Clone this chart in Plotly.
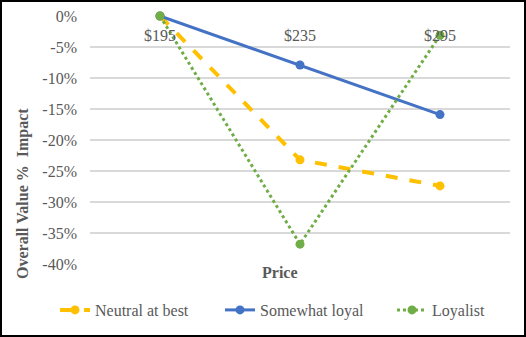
import plotly.graph_objects as go

prices = ["$195", "$235", "$295"]
neutral = [0.0, -0.232, -0.274]
somewhat_loyal = [0.0, -0.079, -0.159]
loyalist = [0.0, -0.368, -0.031]
y_ticks = [0, -0.05, -0.10, -0.15, -0.20, -0.25, -0.30, -0.35, -0.40]
y_tick_text = ["0%", "-5%", "-10%", "-15%", "-20%", "-25%", "-30%", "-35%", "-40%"]

FONT = "Liberation Serif, Times New Roman, serif"
GREY = "#595959"

W, H = 526, 337
L, R, T, B = 90, 16, 16, 73
PW, PH = W - L - R, H - T - B


def px_x(x):
    return (x - L) / PW


def px_y(y):
    return (H - B - y) / PH


fig = go.Figure()
fig.add_trace(go.Scatter(
    x=prices, y=neutral, name="Neutral at best", mode="lines+markers",
    line=dict(color="#FFC000", width=4, dash="dash"),
    marker=dict(symbol="circle", size=9, color="#FFC000"),
    cliponaxis=False, legend="legend",
))
fig.add_trace(go.Scatter(
    x=prices, y=somewhat_loyal, name="Somewhat loyal", mode="lines+markers",
    line=dict(color="#4472C4", width=3),
    marker=dict(symbol="circle", size=9, color="#4472C4"),
    cliponaxis=False, legend="legend2",
))
fig.add_trace(go.Scatter(
    x=prices, y=loyalist, name="Loyalist", mode="lines+markers",
    line=dict(color="#70AD47", width=3, dash="dot"),
    marker=dict(symbol="circle", size=9, color="#70AD47"),
    cliponaxis=False, legend="legend3",
))


def legend_at(x_px):
    return dict(
        orientation="h", xref="container", yref="container",
        x=x_px / W, xanchor="left", y=(H - 310) / H, yanchor="middle",
        font=dict(family=FONT, size=16, color=GREY),
        bgcolor="rgba(0,0,0,0)", borderwidth=0,
    )


fig.update_layout(
    width=W, height=H,
    margin=dict(l=L, r=R, t=T, b=B, pad=0, autoexpand=False),
    paper_bgcolor="white", plot_bgcolor="white",
    font=dict(family=FONT, size=16, color=GREY),
    xaxis=dict(
        type="category", range=[-0.5, 2.5],
        anchor="free", position=1, side="bottom",
        showgrid=False, showline=False, zeroline=False, ticks="",
        tickfont=dict(family=FONT, size=16, color=GREY),
        ticklabelstandoff=8,
    ),
    yaxis=dict(
        range=[-0.40, 0.0], tickvals=y_ticks, ticktext=y_tick_text,
        showgrid=True, gridcolor="#D9D9D9", gridwidth=1.5,
        zeroline=False, showline=False, ticks="",
        tickfont=dict(family=FONT, size=16, color=GREY),
        ticklabelstandoff=12,
    ),
    legend=legend_at(55),
    legend2=legend_at(220),
    legend3=legend_at(392),
    showlegend=True,
)

fig.add_annotation(
    text="<b>Price</b>", xref="paper", yref="paper",
    x=px_x(280), y=px_y(272), xanchor="center", yanchor="middle",
    showarrow=False, font=dict(family=FONT, size=16, color=GREY),
)
fig.add_annotation(
    text="<b>Overall Value %\u00a0 Impact</b>", xref="paper", yref="paper",
    x=px_x(23), y=px_y(194), xanchor="center", yanchor="middle",
    textangle=-90, showarrow=False,
    font=dict(family=FONT, size=16, color=GREY),
)

fig.add_shape(
    type="rect", xref="paper", yref="paper",
    x0=px_x(1), x1=px_x(525), y0=px_y(336), y1=px_y(1),
    line=dict(color="#000000", width=2), fillcolor="rgba(0,0,0,0)",
    layer="above",
)

fig.write_html("out.html")
